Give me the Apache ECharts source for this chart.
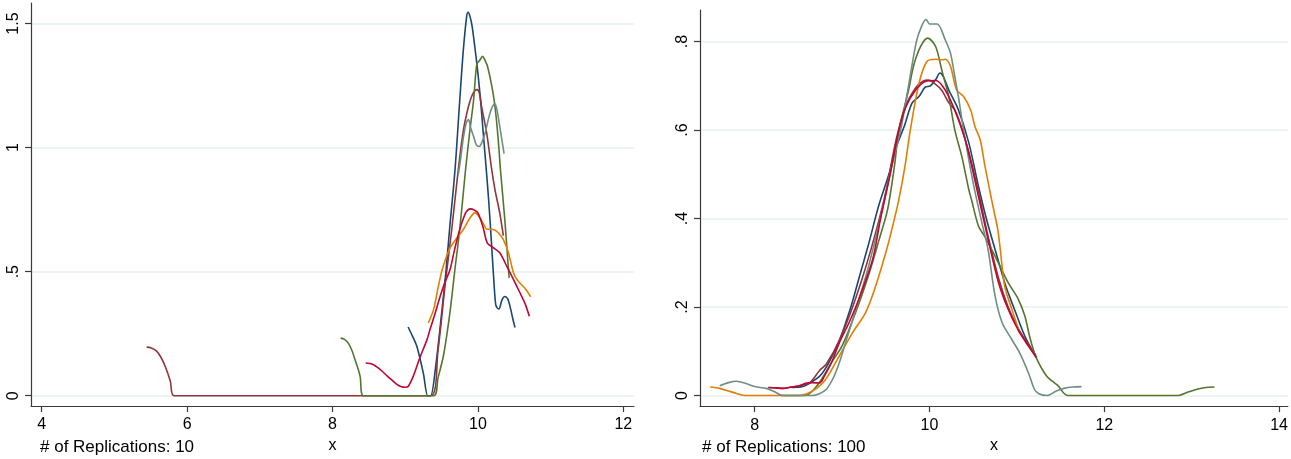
<!DOCTYPE html>
<html>
<head>
<meta charset="utf-8">
<script src="https://cdn.jsdelivr.net/npm/echarts@6/dist/echarts.min.js"></script>
<style>
  html, body { margin: 0; padding: 0; background: #ffffff; }
  #chart { width: 1291px; height: 459px; }
</style>
</head>
<body>
<div id="chart"></div>
<script>
// Kernel density estimates of x for six replication draws, two panels.

// ---- Panel A: 10 replications ----
const rep10Navy = [[9.04,0.277],[9.10,0.24],[9.16,0.199],[9.25,0.09],[9.31,0],[9.31,0],[9.35,0],[9.35,0],[9.42,0.12],[9.50,0.33],[9.56,0.50],[9.61,0.67],[9.685,0.91],[9.75,1.19],[9.80,1.395],[9.846,1.53],[9.865,1.546],[9.89,1.53],[9.92,1.49],[9.96,1.40],[10.0,1.30],[10.04,1.18],[10.07,1.07],[10.11,0.93],[10.15,0.78],[10.19,0.60],[10.22,0.46],[10.245,0.367],[10.27,0.352],[10.29,0.35],[10.33,0.385],[10.37,0.40],[10.41,0.39],[10.45,0.35],[10.48,0.31],[10.51,0.275]];
const rep10Maroon = [[5.444,0.196],[5.50,0.193],[5.58,0.18],[5.64,0.155],[5.70,0.118],[5.77,0.058],[5.82,0],[5.82,0],[9.35,0],[9.35,0],[9.45,0.18],[9.55,0.45],[9.64,0.67],[9.73,0.911],[9.80,1.07],[9.87,1.166],[9.915,1.207],[9.96,1.23],[9.99,1.234],[10.02,1.22],[10.05,1.166],[10.12,1.06],[10.19,0.911],[10.235,0.83],[10.30,0.737],[10.35,0.645]];
const rep10Green = [[8.113,0.232],[8.16,0.228],[8.217,0.212],[8.27,0.18],[8.31,0.145],[8.35,0.11],[8.38,0.078],[8.424,0],[8.424,0],[9.39,0],[9.39,0],[9.45,0.07],[9.524,0.158],[9.58,0.26],[9.626,0.36],[9.68,0.5],[9.75,0.67],[9.83,0.911],[9.89,1.07],[9.94,1.19],[9.97,1.30],[9.99,1.34],[10.02,1.35],[10.066,1.368],[10.10,1.35],[10.13,1.33],[10.19,1.25],[10.235,1.166],[10.28,1.03],[10.31,0.911],[10.37,0.71],[10.42,0.51],[10.43,0.475]];
const rep10Orange = [[9.318,0.293],[9.39,0.347],[9.455,0.44],[9.52,0.52],[9.616,0.595],[9.71,0.636],[9.80,0.67],[9.89,0.716],[9.96,0.737],[10.03,0.716],[10.08,0.69],[10.12,0.672],[10.21,0.67],[10.28,0.657],[10.35,0.629],[10.42,0.576],[10.49,0.495],[10.555,0.461],[10.625,0.44],[10.68,0.42],[10.726,0.398]];
const rep10Teal = [[9.73,0.891],[9.76,0.95],[9.80,1.04],[9.84,1.10],[9.87,1.113],[9.90,1.08],[9.94,1.046],[9.98,1.01],[10.02,1.005],[10.06,1.025],[10.10,1.06],[10.16,1.133],[10.20,1.165],[10.235,1.177],[10.27,1.14],[10.30,1.086],[10.33,1.03],[10.36,0.976]];
const rep10Red = [[8.457,0.132],[8.55,0.127],[8.65,0.107],[8.75,0.08],[8.81,0.065],[8.88,0.047],[8.95,0.036],[9.0,0.034],[9.04,0.037],[9.11,0.078],[9.20,0.152],[9.30,0.226],[9.34,0.266],[9.41,0.33],[9.48,0.40],[9.55,0.46],[9.616,0.508],[9.68,0.59],[9.75,0.67],[9.82,0.73],[9.86,0.748],[9.90,0.753],[9.95,0.748],[10.0,0.737],[10.07,0.68],[10.13,0.615],[10.21,0.597],[10.30,0.576],[10.40,0.52],[10.49,0.468],[10.58,0.414],[10.65,0.37],[10.707,0.32]];

// ---- Panel B: 100 replications ----
const rep100Navy = [[8.42,0.018],[8.55,0.02],[8.65,0.03],[8.75,0.045],[8.85,0.075],[8.97,0.125],[9.1,0.2],[9.2,0.27],[9.3,0.34],[9.42,0.43],[9.54,0.503],[9.61,0.556],[9.71,0.608],[9.80,0.661],[9.88,0.676],[9.95,0.697],[10.01,0.70],[10.07,0.714],[10.12,0.729],[10.16,0.72],[10.22,0.691],[10.33,0.646],[10.45,0.571],[10.56,0.473],[10.65,0.40],[10.75,0.33],[10.86,0.255],[10.90,0.232],[11.0,0.18],[11.1,0.13],[11.22,0.086]];
const rep100Maroon = [[8.15,0.018],[8.25,0.017],[8.32,0.016],[8.42,0.019],[8.51,0.022],[8.63,0.029],[8.74,0.056],[8.82,0.071],[8.97,0.125],[9.12,0.2],[9.27,0.29],[9.40,0.38],[9.50,0.46],[9.62,0.58],[9.73,0.655],[9.84,0.695],[9.92,0.71],[9.99,0.713],[10.06,0.705],[10.14,0.69],[10.22,0.662],[10.29,0.645],[10.36,0.61],[10.45,0.55],[10.56,0.46],[10.67,0.36],[10.79,0.265],[10.9,0.2],[11.02,0.15],[11.13,0.115],[11.22,0.09]];
const rep100Green = [[8.30,0],[8.58,0],[8.58,0],[8.66,0.01],[8.76,0.035],[8.88,0.075],[9.0,0.112],[9.15,0.185],[9.3,0.27],[9.42,0.35],[9.52,0.42],[9.6,0.52],[9.65,0.6],[9.76,0.69],[9.82,0.747],[9.9,0.79],[9.98,0.808],[10.07,0.789],[10.14,0.736],[10.22,0.676],[10.29,0.60],[10.37,0.54],[10.45,0.465],[10.48,0.443],[10.56,0.383],[10.63,0.36],[10.75,0.315],[10.90,0.255],[11.015,0.218],[11.09,0.18],[11.15,0.13],[11.22,0.086],[11.34,0.044],[11.47,0.022],[11.58,0],[11.58,0],[12.85,0],[12.85,0],[12.95,0.007],[13.06,0.014],[13.16,0.018],[13.26,0.019]];
const rep100Orange = [[7.49,0.019],[7.6,0.016],[7.7,0.01],[7.8,0.004],[7.89,0],[7.89,0],[8.51,0],[8.51,0],[8.66,0.010],[8.80,0.033],[8.97,0.09],[9.12,0.142],[9.27,0.188],[9.385,0.248],[9.50,0.323],[9.57,0.376],[9.65,0.444],[9.72,0.519],[9.78,0.60],[9.88,0.706],[9.97,0.755],[10.07,0.760],[10.14,0.759],[10.18,0.760],[10.24,0.744],[10.31,0.691],[10.39,0.676],[10.47,0.646],[10.52,0.608],[10.58,0.578],[10.635,0.518],[10.71,0.443],[10.78,0.376],[10.81,0.33],[10.86,0.247],[10.95,0.19],[11.03,0.142]];
const rep100Teal = [[7.60,0.022],[7.70,0.029],[7.79,0.032],[7.9,0.027],[8.0,0.020],[8.13,0.016],[8.22,0.009],[8.32,0],[8.32,0],[8.66,0],[8.66,0],[8.74,0.004],[8.82,0.014],[8.9,0.04],[8.97,0.075],[9.04,0.12],[9.15,0.19],[9.3,0.29],[9.46,0.42],[9.57,0.52],[9.67,0.60],[9.76,0.70],[9.85,0.80],[9.91,0.835],[9.96,0.85],[10.0,0.84],[10.05,0.84],[10.09,0.84],[10.18,0.804],[10.24,0.774],[10.29,0.72],[10.33,0.676],[10.39,0.60],[10.5,0.48],[10.6,0.39],[10.67,0.33],[10.75,0.225],[10.83,0.165],[10.94,0.127],[11.03,0.097],[11.13,0.052],[11.2,0.014],[11.25,0.004],[11.35,0],[11.45,0.01],[11.54,0.016],[11.64,0.019],[11.74,0.020]];
const rep100Red = [[8.17,0.018],[8.25,0.017],[8.32,0.016],[8.42,0.019],[8.51,0.022],[8.59,0.028],[8.66,0.029],[8.74,0.028],[8.80,0.045],[8.88,0.075],[8.97,0.12],[9.08,0.165],[9.19,0.217],[9.35,0.308],[9.44,0.40],[9.55,0.50],[9.65,0.60],[9.73,0.653],[9.84,0.69],[9.95,0.71],[10.07,0.712],[10.14,0.702],[10.22,0.676],[10.33,0.624],[10.43,0.563],[10.56,0.45],[10.67,0.353],[10.79,0.255],[10.90,0.195],[11.02,0.146],[11.13,0.112],[11.22,0.086]];

// Axis ticks
const xTicks10 = [4, 6, 8, 10, 12];
const yTicks10 = [0, 0.5, 1, 1.5];
const xTicks100 = [8, 10, 12, 14];
const yTicks100 = [0, 0.2, 0.4, 0.6, 0.8];

const notes = ['# of Replications: 10', '# of Replications: 100'];
const xTitle = 'x';

// Stata s2color line palette
const lineColors = ['#1a476f', '#90353b', '#55752f', '#e37e00', '#6e8e84', '#c10534'];

const panels = [
  { data: [rep10Navy, rep10Maroon, rep10Green, rep10Orange, rep10Teal, rep10Red] },
  { data: [rep100Navy, rep100Maroon, rep100Green, rep100Orange, rep100Teal, rep100Red] }
];

const FONT = 'Liberation Sans, Arial, Helvetica, sans-serif';
const axisColor = '#3a3a3a';
const gridColor = '#e9eff0';

function fmt(v) {
  if (v === 0) return '0';
  return String(v).replace(/^0\./, '.');
}

function xAxisFor(idx, min, max, ticks) {
  return {
    type: 'value', gridIndex: idx, min: min, max: max,
    name: xTitle, nameLocation: 'middle', nameGap: 28,
    nameTextStyle: { fontFamily: FONT, fontSize: 16, color: '#000' },
    axisLine: { show: true, onZero: false, lineStyle: { color: axisColor, width: 1.2 } },
    axisTick: { show: true, length: 6, customValues: ticks, lineStyle: { color: axisColor, width: 1.2 } },
    axisLabel: { customValues: ticks, margin: 11, fontFamily: FONT, fontSize: 16, color: '#000', formatter: fmt },
    splitLine: { show: false }
  };
}

function yAxisFor(idx, min, max, ticks) {
  return {
    type: 'value', gridIndex: idx, min: min, max: max,
    axisLine: { show: true, onZero: false, lineStyle: { color: axisColor, width: 1.2 } },
    axisTick: { show: true, length: 6, customValues: ticks, lineStyle: { color: axisColor, width: 1.2 } },
    axisLabel: { customValues: ticks, margin: 9, rotate: 90, fontFamily: FONT, fontSize: 16, color: '#000', formatter: fmt },
    splitLine: { show: true, lineStyle: { color: gridColor, width: 1.5 } }
  };
}

const series = [];
panels.forEach(function (p, pi) {
  p.data.forEach(function (d, si) {
    series.push({
      type: 'line', xAxisIndex: pi, yAxisIndex: pi, data: d,
      showSymbol: false, smooth: 0.3, silent: true, animation: false,
      lineStyle: { color: lineColors[si], width: 1.6 },
      z: 2 + si
    });
  });
});

const chart = echarts.init(document.getElementById('chart'), null, { renderer: 'canvas' });
chart.setOption({
  backgroundColor: '#ffffff',
  animation: false,
  grid: [
    { left: 31, top: 3, width: 603, height: 403 },
    { left: 700, top: 10, width: 591, height: 397 }
  ],
  xAxis: [
    xAxisFor(0, 3.853, 12.147, xTicks10),
    xAxisFor(1, 7.374, 14.1, xTicks100)
  ],
  yAxis: [
    yAxisFor(0, -0.0415, 1.583, yTicks10),
    yAxisFor(1, -0.0241, 0.8715, yTicks100)
  ],
  graphic: [
    { type: 'text', left: 40, top: 439, style: { text: notes[0], font: '17px ' + FONT, fill: '#000' } },
    { type: 'text', left: 702, top: 439, style: { text: notes[1], font: '17px ' + FONT, fill: '#000' } }
  ],
  series: series
});
</script>
</body>
</html>
